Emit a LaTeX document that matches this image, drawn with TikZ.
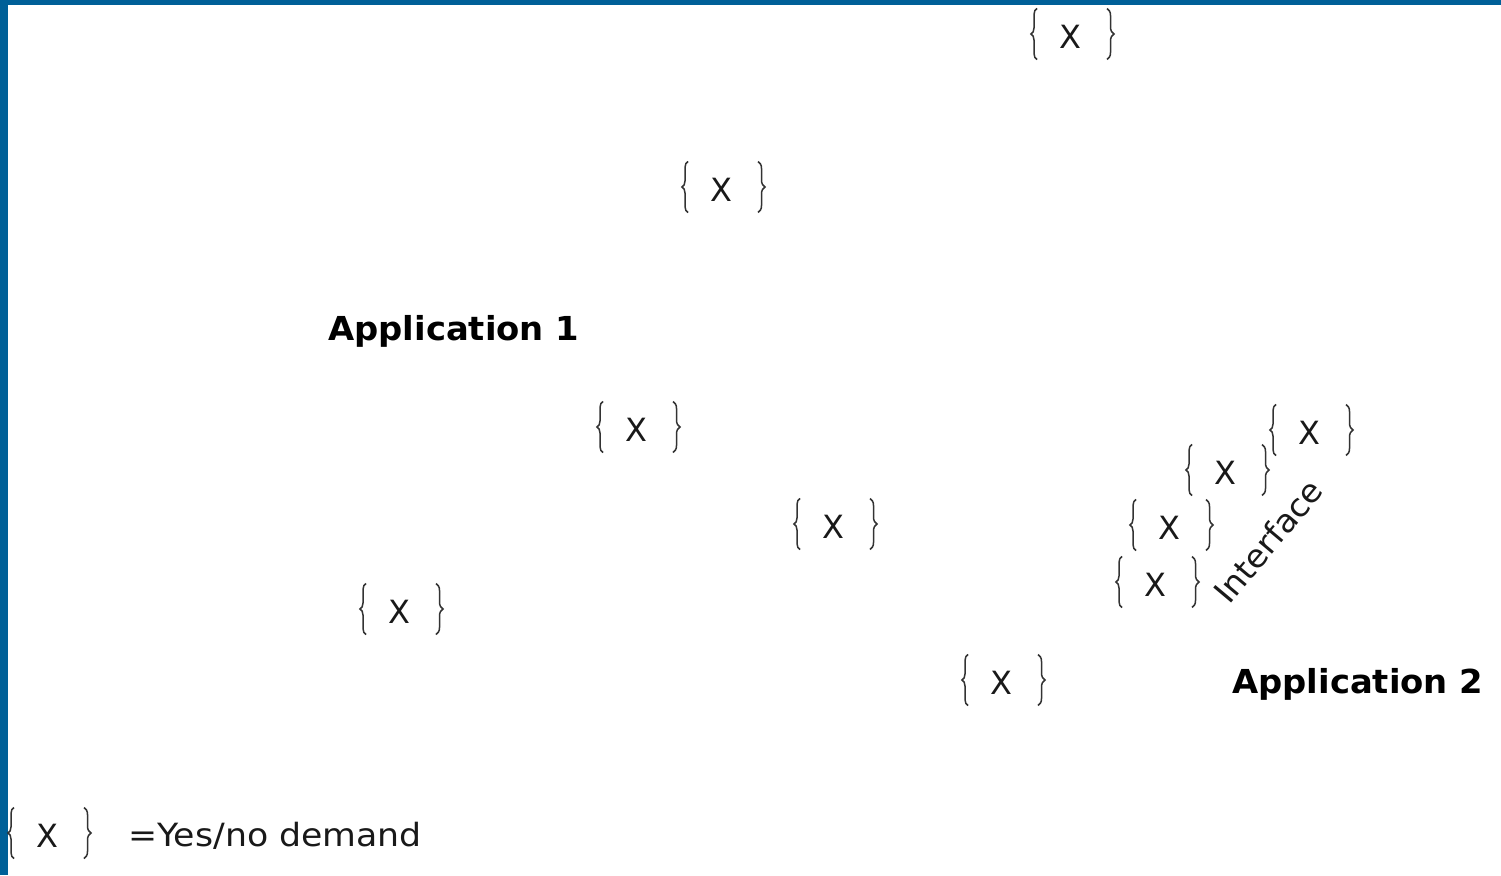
\documentclass[tikz,border=0pt]{standalone}
\usepackage{fontspec}
\setmainfont{DejaVu Sans}
\usetikzlibrary{decorations.pathreplacing}
\definecolor{barblue}{HTML}{006098}
\definecolor{bracegray}{HTML}{333333}
\tikzset{
  brc/.style={draw=bracegray, line width=1.5pt, decorate, decoration={brace, amplitude=#1}},
  ynx/.style={font=\fontsize{32}{38}\selectfont, inner sep=0pt, text=black!90},
  apptext/.style={font=\fontsize{33}{40}\selectfont\bfseries, inner sep=0pt, anchor=west, xscale=1.025},
  plaintext/.style={font=\fontsize{32}{38}\selectfont, inner sep=0pt, text=black!90},
  yn/.pic={
    \node[ynx] (-x) at (0,0) {X};
    \draw[brc=6] (-33,22.5) -- (-33,-28.5);
    \draw[brc=7] (37,-28.5) -- (37,22.5);
  }
}
\begin{document}
\begin{tikzpicture}[x=1pt,y=-1pt]
\useasboundingbox (0,0) rectangle (1501,875);
\fill[white] (0,0) rectangle (1501,875);
\fill[barblue] (0,0) rectangle (8,875);
\fill[barblue] (0,0) rectangle (1501,5);

\pic (d1) at (1070,37) {yn};
\pic (d2) at (721,190) {yn};
\pic (d3) at (636,430) {yn};
\pic (d4) at (833,527) {yn};
\pic (d5) at (399,612) {yn};
\pic (d6) at (1001,683) {yn};
\pic (d7) at (1309,433) {yn};
\pic (d8) at (1225,473) {yn};
\pic (d9) at (1169,528) {yn};
\pic (d10) at (1155,585) {yn};
\pic (leg) at (47,836) {yn};

\node[apptext] (app1) at (328,331) {Application 1};
\node[apptext] (app2) at (1232,684) {Application 2};
\node[plaintext, rotate=50, xscale=1.04] (iface) at (1268,541) {Interface};
\node[plaintext, anchor=west, xscale=1.085] (legtext) at (128,836) {=Yes/no demand};
\end{tikzpicture}
\end{document}
